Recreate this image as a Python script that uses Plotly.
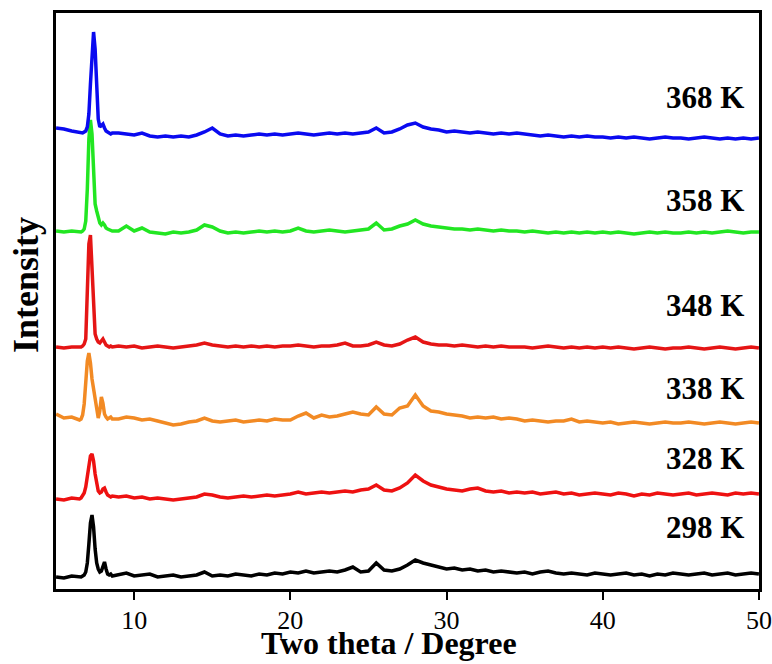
import plotly.graph_objects as go

# ---- sampling positions (two theta, degrees) ----
two_theta = [
    5.0, 5.5, 6.0, 6.5,
    6.6, 6.7, 6.8, 6.9, 7.0, 7.1, 7.2, 7.3, 7.4, 7.5,
    7.6, 7.7, 7.8, 7.9, 8.0, 8.1, 8.2, 8.3, 8.4, 8.5, 8.6,
    9.0, 9.5, 10.0, 10.5, 11.0, 11.5, 12.0, 12.5, 13.0, 13.5, 14.0, 14.5,
    15.0, 15.5, 16.0, 16.5, 17.0, 17.5, 18.0, 18.5, 19.0, 19.5,
    20.0, 20.5, 21.0, 21.5, 22.0, 22.5, 23.0, 23.5, 24.0, 24.5,
    25.0, 25.5, 26.0, 26.5, 27.0, 27.5, 28.0, 28.5, 29.0, 29.5,
    30.0, 30.5, 31.0, 31.5, 32.0, 32.5, 33.0, 33.5, 34.0, 34.5,
    35.0, 35.5, 36.0, 36.5, 37.0, 37.5, 38.0, 38.5, 39.0, 39.5,
    40.0, 40.5, 41.0, 41.5, 42.0, 42.5, 43.0, 43.5, 44.0, 44.5,
    45.0, 45.5, 46.0, 46.5, 47.0, 47.5, 48.0, 48.5, 49.0, 49.5, 50.0,
]

# ---- intensities (a.u., stacked) ----
i_298 = [
    12, 11, 13, 12,
    12, 13, 14, 17, 26, 45, 66, 74, 62, 40,
    26, 20, 17, 18, 24, 27, 20, 15, 14, 15, 13,
    14, 16, 13, 14, 15, 12, 13, 14, 12, 13, 14, 17,
    13, 14, 13, 15, 14, 13, 15, 14, 16, 15,
    17, 16, 18, 16, 17, 18, 17, 19, 22, 17,
    18, 26, 19, 18, 20, 24, 29, 26, 24, 22,
    20, 21, 19, 20, 18, 19, 17, 18, 17, 16,
    17, 15, 17, 18, 16, 15, 16, 15, 14, 16,
    15, 14, 15, 16, 14, 15, 13, 15, 14, 16,
    15, 14, 15, 16, 14, 15, 16, 14, 15, 16, 15,
]
i_328 = [
    90, 89, 91, 90,
    91, 93, 96, 102, 112, 125, 133, 135, 128, 115,
    104, 98, 96, 97, 100, 101, 97, 94, 93, 92, 93,
    92, 93, 91, 92, 90, 91, 90, 89, 90, 91, 92, 95,
    94, 92, 91, 92, 93, 92, 93, 94, 93, 94,
    95, 97, 95, 96, 97, 96, 97, 98, 97, 99,
    100, 104, 99, 98, 101, 106, 114, 108, 104, 102,
    100, 99, 98, 100, 101, 98, 97, 98, 96, 97,
    96, 97, 95, 96, 97, 95, 96, 94, 95, 96,
    95, 94, 96, 95, 93, 95, 94, 96, 95, 94,
    95, 96, 94, 95, 96, 95, 94, 96, 95, 96, 95,
]
i_338 = [
    175, 171, 172, 169,
    170, 174, 185, 205, 228, 236, 226, 210, 200, 188,
    180, 171, 178, 192, 186, 175, 172, 170, 171, 172, 170,
    170, 172, 171, 169, 170, 168, 166, 164, 165, 167, 168, 171,
    168, 167, 168, 169, 167, 168, 169, 168, 170, 169,
    169, 173, 176, 171, 174, 172, 173, 175, 177, 175,
    174, 182, 175, 174, 181, 183, 194, 183, 178, 177,
    175, 174, 173, 171, 172, 171, 172, 170, 171, 170,
    168, 169, 168, 167, 168, 168, 170, 167, 168, 167,
    166, 167, 165, 166, 167, 166, 165, 166, 167, 166,
    166, 167, 166, 165, 166, 167, 166, 165, 166, 167, 166,
]
i_348 = [
    242, 241, 242, 242,
    242, 243, 245, 250, 290, 345, 354, 320, 270, 255,
    250, 247, 246, 248, 250, 247, 244, 243, 242, 243, 242,
    243, 242, 243, 241, 242, 243, 242, 241, 242, 243, 244, 246,
    244, 243, 242, 243, 242, 243, 242, 243, 242, 243,
    243, 244, 243, 242, 243, 243, 244, 246, 243, 243,
    244, 247, 244, 243, 245, 249, 252, 247, 245, 244,
    244, 243, 244, 243, 242, 243, 242, 243, 242, 242,
    242, 241, 242, 243, 242, 241, 242, 241, 242, 241,
    242, 241, 242, 241, 240, 241, 242, 241, 240, 241,
    241, 242, 241, 240, 241, 242, 241, 240, 241, 242, 241,
]
i_358 = [
    358, 357, 358, 357,
    357, 358, 360, 368, 400, 450, 469, 455, 410, 385,
    378, 372, 366, 364, 366, 364, 361, 360, 359, 358, 358,
    358, 363, 358, 361, 357, 356, 355, 357, 356, 357, 359, 364,
    362, 358, 356, 357, 356, 357, 358, 357, 358, 357,
    358, 361, 358, 357, 358, 359, 358, 357, 358, 359,
    360, 366, 359, 360, 363, 365, 369, 365, 363, 362,
    361, 360, 360, 359, 360, 359, 358, 359, 358, 358,
    357, 358, 357, 356, 357, 356, 357, 356, 357, 356,
    357, 356, 357, 356, 355, 356, 357, 356, 357, 356,
    356, 357, 356, 357, 356, 357, 358, 357, 356, 357, 357,
]
i_368 = [
    461, 460, 458, 457,
    457, 456, 457, 458, 462, 475, 505, 540, 557, 540,
    500, 470, 462, 464, 465, 461, 458, 457, 456, 455, 456,
    456, 455, 454, 456, 453, 452, 453, 452, 453, 452, 454, 457,
    461, 455, 453, 454, 453, 454, 455, 454, 455, 454,
    455, 456, 455, 454, 455, 456, 455, 456, 455, 456,
    457, 461, 456, 457, 460, 464, 466, 462, 460, 459,
    457, 458, 457, 456, 457, 456, 455, 456, 455, 456,
    455, 454, 453, 454, 453, 452, 453, 452, 453, 452,
    452, 451, 452, 451, 452, 451, 450, 451, 452, 451,
    451, 450, 451, 452, 451, 450, 451, 450, 451, 450, 451,
]

series = [i_298, i_328, i_338, i_348, i_358, i_368]
labels = ["298 K", "328 K", "338 K", "348 K", "358 K", "368 K"]
colors = ["#000000", "#ee1111", "#f28a24", "#e51515", "#22e622", "#0a0af0"]
label_y = [62, 131, 201, 284, 389, 492]

x_ticks = [10, 20, 30, 40, 50]

SERIF = "Liberation Serif, Times New Roman, serif"

fig = go.Figure()
for ys, name, col in zip(series, labels, colors):
    fig.add_trace(go.Scatter(
        x=two_theta, y=ys, mode="lines", name=name,
        line=dict(color=col, width=3.5), showlegend=False,
    ))

annotations = []
for name, ly in zip(labels, label_y):
    annotations.append(dict(
        text="<b>%s</b>" % name, x=0.982, xref="paper", y=ly, yref="y",
        xanchor="right", yanchor="middle", showarrow=False,
        font=dict(family=SERIF, size=31, color="black"),
    ))
annotations.append(dict(
    text="<b>Two theta / Degree</b>", x=0.474, xref="paper", y=-0.094, yref="paper",
    xanchor="center", yanchor="middle", showarrow=False,
    font=dict(family=SERIF, size=32, color="black"),
))
annotations.append(dict(
    text="<b>Intensity</b>", x=(26 - 56) / 703, xref="paper",
    y=(589 - 285) / 576, yref="paper", showarrow=False, textangle=-90,
    xanchor="center", yanchor="middle",
    font=dict(family=SERIF, size=36, color="black"),
))

fig.update_layout(
    width=772, height=664,
    margin=dict(l=56, r=13, t=13, b=75, autoexpand=False),
    paper_bgcolor="white", plot_bgcolor="white",
    annotations=annotations,
    xaxis=dict(
        range=[4.995, 50.005], tickvals=x_ticks, ticktext=[str(v) for v in x_ticks],
        ticks="outside", ticklen=8, tickwidth=2, tickcolor="black",
        showline=True, linewidth=3, linecolor="black", mirror=True,
        showgrid=False, zeroline=False, automargin=False,
        ticklabeloverflow="allow", ticklabelstandoff=-2,
        tickfont=dict(family=SERIF, size=26, color="black"),
    ),
    yaxis=dict(
        range=[0, 576], showticklabels=False, ticks="",
        showline=True, linewidth=3, linecolor="black", mirror=True,
        showgrid=False, zeroline=False, automargin=False,
    ),
)

fig.write_html(
    "out.html",
    config={"displayModeBar": False},
    post_script="document.body.style.margin='0px';",
)
